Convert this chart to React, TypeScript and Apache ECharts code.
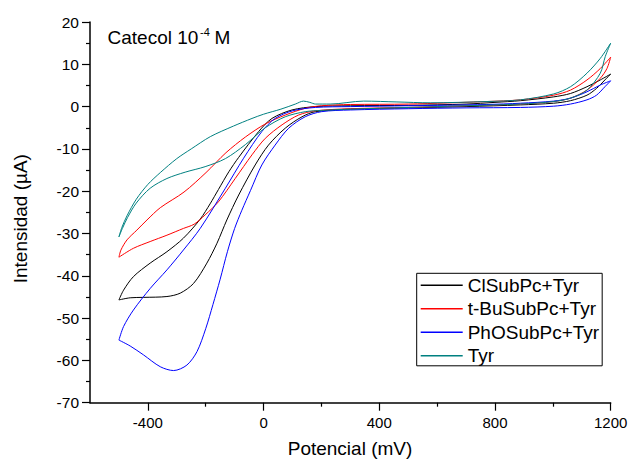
import React, { useEffect, useRef } from "react";
import * as echarts from "echarts";

const FONT = "'Liberation Sans', Arial, sans-serif";

const seriesNames = ["ClSubPc+Tyr", "t-BuSubPc+Tyr", "PhOSubPc+Tyr", "Tyr"];
const seriesColors = ["#000000", "#ff0000", "#0000ff", "#008080"];

const xMajorTicks = [-400, 0, 400, 800, 1200];
const xMinorTicks = [-200, 200, 600, 1000];

// Potential (mV), current (µA): closed cyclic-voltammetry loops
const clSubPc = [
  [-500, -45.7], [-484, -43.4], [-450, -40.2], [-392, -37.0], [-334, -34.3], [-277, -31.1],
  [-219, -26.6], [-185, -23.0], [-156, -19.6], [-120, -15.4], [-86, -12.0], [-17, -5.9],
  [29, -2.8], [98, -0.8], [179, 0], [300, 0.2], [500, 0.3], [700, 0.6], [800, 1.0], [888, 1.4],
  [1003, 2.3], [1061, 3.1], [1118, 4.7], [1164, 6.3], [1200, 7.7],
  [1180, 6.3], [1151, 4.3], [1118, 2.7], [1061, 1.4], [1003, 0.8], [888, 0.4], [700, 0.0],
  [500, -0.3], [300, -0.6], [179, -1.2], [133, -2.4], [75, -5.1], [17, -9.1], [-29, -13.8],
  [-86, -20.9], [-127, -26.8], [-161, -32.3], [-196, -37.0], [-242, -41.8], [-288, -44.1],
  [-334, -44.9], [-415, -45.1], [-461, -45.2], [-500, -45.7],
];

const tBuSubPc = [
  [-500, -35.6], [-493, -33.9], [-472, -31.5], [-438, -29.2], [-403, -26.8], [-357, -23.9],
  [-275, -20.2], [-199, -15.6], [-130, -10.9], [-63, -7.2], [6, -4.1], [75, -2.0],
  [144, -0.4], [200, 0.2], [300, 0.5], [500, 0.6], [772, 1.2], [888, 1.6], [1003, 2.7],
  [1061, 3.9], [1118, 6.3], [1164, 9.0], [1200, 11.7],
  [1187, 9.0], [1164, 6.7], [1118, 3.9], [1061, 2.0], [1003, 1.2], [888, 0.6], [700, 0.2],
  [500, -0.2], [300, -0.5], [179, -1.0], [121, -2.0], [64, -4.3], [6, -7.5], [-40, -11.4],
  [-98, -17.0], [-156, -22.5], [-202, -25.6], [-240, -27.8], [-277, -28.8], [-334, -30.4],
  [-392, -31.9], [-450, -33.5], [-500, -35.6],
];

const phOSubPc = [
  [-500, -55.2], [-484, -52.0], [-450, -48.1], [-392, -43.0], [-334, -38.6], [-277, -33.9],
  [-219, -28.8], [-132, -19.3], [-69, -12.2], [-6, -5.9], [40, -2.8], [100, -1.0],
  [179, -0.2], [300, 0.0], [500, 0.2], [772, 0.5], [888, 0.8], [1003, 1.3], [1061, 2.0],
  [1118, 3.5], [1164, 5.1], [1200, 6.1],
  [1180, 4.7], [1151, 2.7], [1118, 1.6], [1061, 0.6], [1003, 0.1], [888, -0.2], [700, -0.3],
  [500, -0.5], [300, -0.8], [200, -1.2], [144, -2.4], [87, -5.1], [40, -9.1], [-6, -13.8],
  [-45, -19.8], [-75, -24.5], [-100, -28.8], [-125, -34.3], [-150, -40.8], [-175, -46.8],
  [-200, -52.5], [-230, -57.9], [-265, -61.1], [-311, -62.4], [-357, -61.5], [-415, -58.7],
  [-461, -56.6], [-500, -55.2],
];

const tyr = [
  [-500, -30.8], [-490, -28.6], [-472, -25.8], [-440, -21.9], [-400, -18.4], [-357, -15.6],
  [-300, -12.3], [-250, -10.0], [-184, -7.1], [-104, -4.6], [-40, -2.8], [0, -1.8],
  [60, -0.6], [110, 0.6], [138, 1.3], [160, 1.0], [180, 0.6], [230, 0.6], [346, 1.3],
  [461, 1.1], [576, 0.9], [772, 1.2], [888, 1.6], [1003, 3.0], [1061, 4.7], [1118, 7.9],
  [1164, 11.4], [1200, 15.0],
  [1181, 11.8], [1164, 7.9], [1118, 3.9], [1061, 2.0], [1003, 1.2], [888, 0.6], [700, 0.2],
  [500, -0.2], [300, -0.6], [200, -0.9], [144, -1.2], [75, -2.4], [6, -5.0], [-63, -9.0],
  [-132, -12.3], [-202, -14.2], [-271, -15.5], [-334, -17.0], [-392, -19.3], [-440, -22.8],
  [-470, -26.2], [-488, -28.8], [-500, -30.8],
];

const seriesData = [clSubPc, tBuSubPc, phOSubPc, tyr];

export default function App() {
  const ref = useRef<HTMLDivElement>(null);

  useEffect(() => {
    document.body.style.margin = "0";
    const chart = echarts.init(ref.current!, null, { renderer: "svg" });
    const axisColor = "#000";
    const option: any = {
      animation: false,
      grid: { left: 90, top: 22, width: 520.7, height: 380.7, outerBoundsMode: "none" },
      legend: {
        orient: "vertical",
        left: 416.7,
        top: 273.3,
        padding: [2, 3, 0, 4],
        borderColor: "#000",
        borderWidth: 1,
        itemGap: 3.5,
        itemWidth: 42,
        itemHeight: 1.5,
        icon: "rect",
        data: seriesNames,
        textStyle: { fontFamily: FONT, fontSize: 19, lineHeight: 20, color: "#000" },
      },
      xAxis: [
        {
          type: "value",
          min: -600,
          max: 1200,
          axisLine: { show: true, onZero: false, lineStyle: { color: axisColor, width: 1.5 } },
          axisTick: { show: true, customValues: xMajorTicks, length: 8, lineStyle: { color: axisColor, width: 1.2 } },
          axisLabel: {
            customValues: xMajorTicks,
            margin: 12,
            color: "#000",
            fontSize: 15,
            fontFamily: FONT,
            formatter: (v: number) => String(v),
          },
          splitLine: { show: false },
        },
        {
          type: "value",
          min: -600,
          max: 1200,
          position: "bottom",
          axisLine: { show: false, onZero: false },
          axisTick: { show: true, customValues: xMinorTicks, length: 4, lineStyle: { color: axisColor, width: 1.2 } },
          axisLabel: { show: false },
          splitLine: { show: false },
        },
      ],
      yAxis: {
        type: "value",
        min: -70,
        max: 20,
        interval: 10,
        axisLine: { show: true, onZero: false, lineStyle: { color: axisColor, width: 1.5 } },
        axisTick: { show: true, length: 8, lineStyle: { color: axisColor, width: 1.2 } },
        minorTick: { show: true, splitNumber: 2, length: 4, lineStyle: { color: axisColor, width: 1.2 } },
        axisLabel: { margin: 11, color: "#000", fontSize: 15.5, fontFamily: FONT, formatter: (v: number) => String(v) },
        splitLine: { show: false },
        minorSplitLine: { show: false },
      },
      graphic: [
        { type: "text", x: 107.5, y: 37, style: { text: "Catecol 10", fontSize: 19, fontFamily: FONT, fill: "#000", verticalAlign: "middle" } },
        { type: "text", x: 200, y: 31.5, style: { text: "-4", fontSize: 11, fontFamily: FONT, fill: "#000", verticalAlign: "middle" } },
        { type: "text", x: 214.5, y: 37, style: { text: "M", fontSize: 19, fontFamily: FONT, fill: "#000", verticalAlign: "middle" } },
        { type: "text", x: 350, y: 448.5, style: { text: "Potencial (mV)", fontSize: 19, fontFamily: FONT, fill: "#000", align: "center", verticalAlign: "middle" } },
        { type: "text", x: 20, y: 218.7, rotation: Math.PI / 2, style: { text: "Intensidad (µA)", fontSize: 19, fontFamily: FONT, fill: "#000", align: "center", verticalAlign: "middle" } },
      ],
      series: seriesNames.map((name, i) => ({
        name,
        type: "line",
        data: seriesData[i],
        showSymbol: false,
        symbol: "none",
        smooth: 0.3,
        color: seriesColors[i],
        lineStyle: { color: seriesColors[i], width: 1 },
        xAxisIndex: 0,
        yAxisIndex: 0,
      })),
    };
    chart.setOption(option);
    return () => chart.dispose();
  }, []);

  return <div ref={ref} style={{ width: 628, height: 459 }} />;
}
